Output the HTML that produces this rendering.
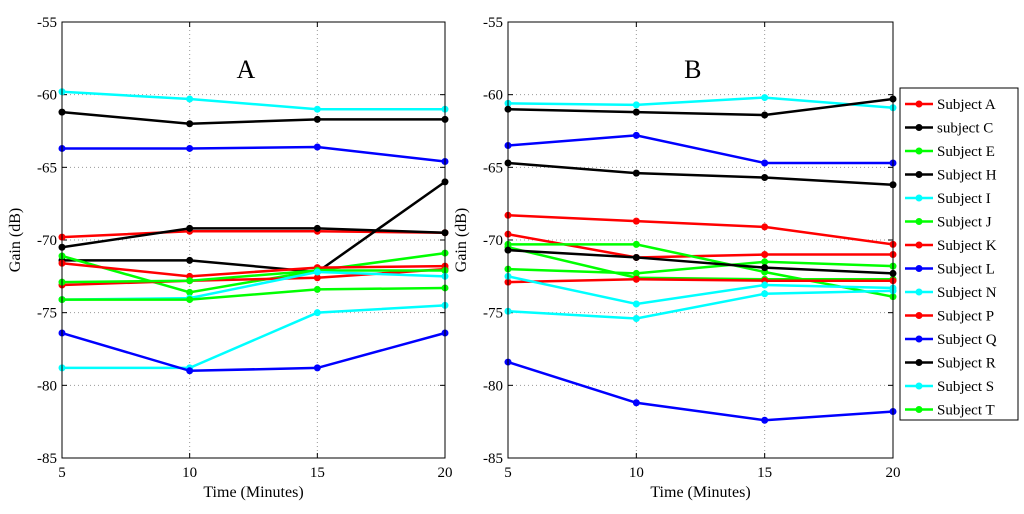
<!DOCTYPE html>
<html><head><meta charset="utf-8"><style>
body{margin:0;background:#fff;font-family:"Liberation Serif",serif}
svg text{font-family:"Liberation Serif",serif}
</style></head><body>
<svg id="chart" width="1024" height="509" xmlns="http://www.w3.org/2000/svg"></svg>
<script>
const xCats=[5,10,15,20];
const yTicks=[-55,-60,-65,-70,-75,-80,-85];
const legendNames=["Subject A","subject C","Subject E","Subject H","Subject I","Subject J","Subject K","Subject L","Subject N","Subject P","Subject Q","Subject R","Subject S","Subject T"];
const legendColors=["#f00","#000","#0f0","#000","#0ff","#0f0","#f00","#00f","#0ff","#f00","#00f","#000","#0ff","#0f0"];
const legendMarkers=["o",".","^","+","d","^","o","s","<","o",">","+","<","d"];
const seriesAColors=["#0ff","#000","#00f","#f00","#000","#000","#0f0","#f00","#f00","#0f0","#0ff","#0f0","#0ff","#00f"];
const seriesA=[[-59.8,-60.3,-61,-61],[-61.2,-62,-61.7,-61.7],[-63.7,-63.7,-63.6,-64.6],[-69.8,-69.4,-69.4,-69.5],[-70.5,-69.2,-69.2,-69.5],[-71.4,-71.4,-72.2,-66],[-71.1,-73.6,-72.1,-70.9],[-71.6,-72.5,-71.9,-71.8],[-73.1,-72.8,-72.6,-72.0],[-72.9,-72.8,-72.1,-72.1],[-74.1,-74.0,-72.2,-72.5],[-74.1,-74.1,-73.4,-73.3],[-78.8,-78.8,-75,-74.5],[-76.4,-79,-78.8,-76.4]];
const seriesBColors=["#0ff","#000","#00f","#000","#f00","#f00","#0f0","#0f0","#0f0","#000","#f00","#0ff","#0ff","#00f"];
const seriesB=[[-60.6,-60.7,-60.2,-60.9],[-61,-61.2,-61.4,-60.3],[-63.5,-62.8,-64.7,-64.7],[-64.7,-65.4,-65.7,-66.2],[-68.3,-68.7,-69.1,-70.3],[-69.6,-71.2,-71,-71],[-70.3,-70.3,-72.2,-73.9],[-72.0,-72.3,-71.5,-71.8],[-70.5,-72.6,-72.7,-72.7],[-70.7,-71.2,-71.9,-72.3],[-72.9,-72.7,-72.8,-72.8],[-72.5,-74.4,-73.1,-73.3],[-74.9,-75.4,-73.7,-73.5],[-78.4,-81.2,-82.4,-81.8]];
const NS="http://www.w3.org/2000/svg",svg=document.getElementById('chart');
function mk(t,a,p){const e=document.createElementNS(NS,t);for(const k in a)e.setAttribute(k,a[k]);(p||svg).appendChild(e);return e;}
const Y0=22,Y1=458;
function y(v){return Y0+(v-(-55))/(-30)*(Y1-Y0);}
function panel(x0,x1,data,colors,title,label){
  const g=mk('g',{});
  
  
  const x=v=>x0+(v-5)/15*(x1-x0);
  mk('rect',{x:x0,y:Y0,width:x1-x0,height:Y1-Y0,fill:'#fff',stroke:'none'},g);
  xCats.forEach(c=>{if(c>5&&c<20)mk('line',{x1:x(c),x2:x(c),y1:Y0,y2:Y1,stroke:'#999','stroke-dasharray':'1,3','stroke-width':1},g);
    const t=mk('text',{x:x(c),y:Y1+19,'text-anchor':'middle','font-size':15},g);t.textContent=c;
    
    mk('line',{x1:x(c),x2:x(c),y1:Y1,y2:Y1-5,stroke:'#000'},g);mk('line',{x1:x(c),x2:x(c),y1:Y0,y2:Y0+5,stroke:'#000'},g);});
  yTicks.forEach(v=>{if(v>-85&&v<-55)mk('line',{x1:x0,x2:x1,y1:y(v),y2:y(v),stroke:'#999','stroke-dasharray':'1,3'},g);
    const t=mk('text',{x:x0-5,y:y(v)+5,'text-anchor':'end','font-size':15},g);t.textContent=v;
    
    mk('line',{x1:x0,x2:x0+5,y1:y(v),y2:y(v),stroke:'#000'},g);mk('line',{x1:x1,x2:x1-5,y1:y(v),y2:y(v),stroke:'#000'},g);});
  data.forEach((s,i)=>{
    const pl=mk('polyline',{points:s.map((v,j)=>x(xCats[j])+','+y(v)).join(' '),fill:'none',stroke:colors[i],'stroke-width':2.5},g);
    
    s.forEach((v,j)=>{const c=mk('circle',{cx:x(xCats[j]),cy:y(v),r:3.5,fill:colors[i]},g);
      });
  });
  mk('rect',{x:x0,y:Y0,width:x1-x0,height:Y1-Y0,fill:'none',stroke:'#000'},g);
  const tt=mk('text',{x:x0+(x1-x0)*0.48,y:78,'font-size':26,'text-anchor':'middle'},g);tt.textContent=title;
  
  const xl=mk('text',{x:(x0+x1)/2,y:497,'font-size':16,'text-anchor':'middle'},g);xl.textContent='Time (Minutes)';
  
  const yl=mk('text',{x:0,y:0,'font-size':16,'text-anchor':'middle',transform:`translate(${x0-42},${(Y0+Y1)/2}) rotate(-90)`},g);yl.textContent='Gain (dB)';
  
}
panel(62,445,seriesA,seriesAColors,'A','a');
panel(508,893,seriesB,seriesBColors,'B','b');
const lg=mk('g',{});


mk('rect',{x:900,y:88,width:118,height:332,fill:'#fff',stroke:'#000'},lg);
legendNames.forEach((n,i)=>{const yy=104+i*23.5;
  const e=mk('g',{},lg);
  
  
  mk('line',{x1:905,x2:933,y1:yy,y2:yy,stroke:legendColors[i],'stroke-width':2.5},e);
  mk('circle',{cx:919,cy:yy,r:3.5,fill:legendColors[i]},e);
  const t=mk('text',{x:937,y:yy+5,'font-size':15},e);t.textContent=n;});
</script>
</body></html>
